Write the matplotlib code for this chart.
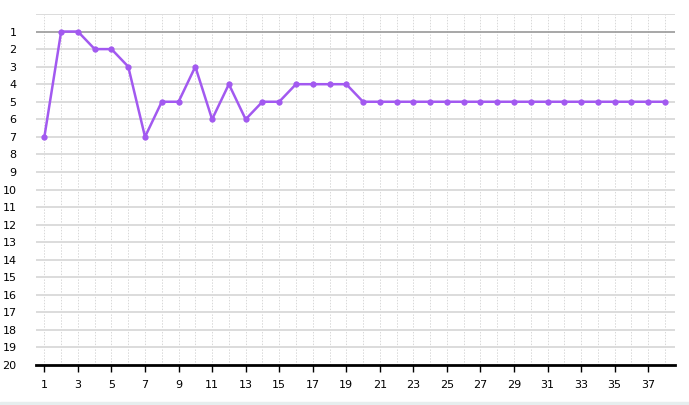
import matplotlib
matplotlib.use("Agg")
import matplotlib.pyplot as plt
from matplotlib.patches import Rectangle

# x positions and rank values
positions = list(range(1, 39))
ranks = [7, 1, 1, 2, 2, 3, 7, 5, 5, 3, 6, 4, 6, 5, 5, 4, 4, 4, 4] + [5] * 19
y_ticks = list(range(1, 21))
x_ticks = list(range(1, 39, 2))

line_color = "#a259f0"

fig = plt.figure(figsize=(6.89, 4.05), dpi=100)
ax = fig.add_axes([36 / 689, 1 - 365 / 405, (675 - 36) / 689, (365 - 14) / 405])

# faint band along the bottom edge
fig.patches.append(Rectangle((0, 0), 1, 3 / 405, transform=fig.transFigure,
                             color="#e6eeee", zorder=0))

# grid lines
for y in range(0, 21):
    if y == 1:
        ax.axhline(y, color="#a0a0a0", lw=1.3, zorder=1)
    elif y < 20:
        ax.axhline(y, color="#dcdcdc", lw=1.4, zorder=1)
for x in positions:
    ax.axvline(x, color="#d8d8d8", lw=0.7, ls=(0, (1.5, 1.5)), zorder=0)

ax.plot(positions, ranks, color=line_color, lw=1.8, marker="o", ms=3.5,
        zorder=3, clip_on=False)

ax.set_ylim(20, 0)
ax.set_xlim(0.5, 38.6)
ax.set_yticks(y_ticks)
ax.set_xticks(x_ticks)
ax.tick_params(axis="y", length=0, pad=14, labelsize=8)
ax.tick_params(axis="x", length=5, width=1, color="black", pad=6, labelsize=8)

for s in ["top", "right", "left"]:
    ax.spines[s].set_visible(False)
ax.spines["bottom"].set_linewidth(2)
ax.spines["bottom"].set_color("black")

fig.savefig("out.png", dpi=100)
